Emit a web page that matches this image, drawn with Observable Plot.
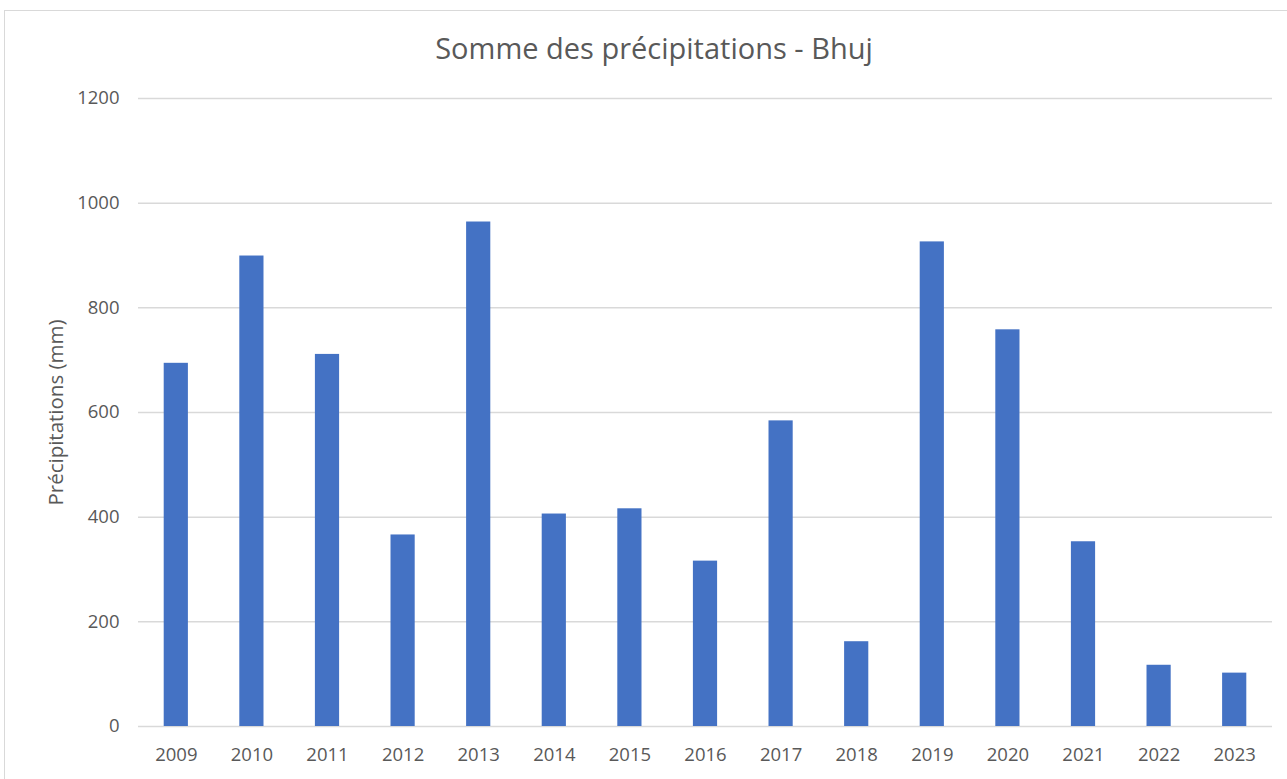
<!DOCTYPE html>
<html>
<head>
<meta charset="utf-8">
<script src="https://cdn.jsdelivr.net/npm/d3@7"></script>
<script src="https://cdn.jsdelivr.net/npm/@observablehq/plot@0.6"></script>
<style>
  html, body { margin: 0; padding: 0; background: #fff; }
  #wrap { position: relative; width: 1287px; height: 779px; overflow: hidden; font-family: "Open Sans", sans-serif; }
  #frame { position: absolute; left: 4px; top: 10px; width: 1300px; height: 800px; border: 1.5px solid #d9d9d9; box-sizing: border-box; }
  #title { position: absolute; left: 0; width: 1308px; top: 29px; text-align: center; font-size: 29px; line-height: 38px; color: #595959; }
  #chart { position: absolute; left: 0; top: 0; }
</style>
</head>
<body>
<div id="wrap">
  <div id="frame"></div>
  <div id="chart"></div>
  <div id="title">Somme des précipitations - Bhuj</div>
</div>
<script>
const years = ["2009","2010","2011","2012","2013","2014","2015","2016","2017","2018","2019","2020","2021","2022","2023"];
const rainfall = [694, 899, 711, 366, 964, 406, 416, 316, 584, 162, 926, 758, 353, 117, 102];
const yTicks = [0, 200, 400, 600, 800, 1000, 1200];
const yLabel = "Précipitations (mm)";

const data = years.map((y, i) => ({year: y, value: rainfall[i]}));

const chart = Plot.plot({
  width: 1287,
  height: 779,
  marginLeft: 138,
  marginRight: 15,
  marginTop: 98,
  marginBottom: 53,
  style: {fontFamily: "Open Sans, sans-serif", fontSize: "18.5px", color: "#595959", background: "transparent"},
  x: {domain: years, paddingInner: 0.68, paddingOuter: 0.34, align: 0.5, round: false},
  y: {domain: [0, 1200]},
  marks: [
    Plot.gridY(yTicks, {stroke: "#d9d9d9", strokeOpacity: 1, strokeWidth: 1.5}),
    Plot.barY(data, {x: "year", y: "value", fill: "#4472C4"}),
    Plot.axisX({tickSize: 0, tickPadding: 21, label: null, fontSize: 18.5}),
    Plot.axisY(yTicks, {tickSize: 0, tickPadding: 19, label: null, tickFormat: d => String(d), fontSize: 18.5}),
    Plot.text([yLabel], {frameAnchor: "left", dx: -82, rotate: -90, textAnchor: "middle", fontSize: 20.5, fill: "#595959", text: d => d})
  ]
});
document.getElementById("chart").appendChild(chart);
</script>
</body>
</html>
